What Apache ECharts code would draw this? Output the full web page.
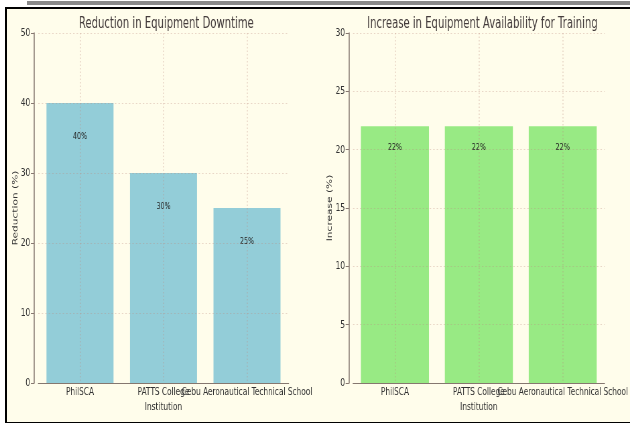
<!DOCTYPE html>
<html>
<head>
<meta charset="utf-8">
<script src="https://cdn.jsdelivr.net/npm/echarts@6/dist/echarts.min.js"></script>
<style>
  html, body { margin: 0; padding: 0; background: #ffffff; width: 630px; height: 423px; overflow: hidden; }
  #topbar { position: absolute; left: 27px; top: 1px; width: 603px; height: 4px; background: #8a8a8a; }
  #frame { position: absolute; left: 5px; top: 7px; width: 640px; height: 413px; border: 2px solid #000; background: #fffdeb; }
  /* the figure is drawn at full width and compressed horizontally, like the reference */
  #chart { position: absolute; left: 0; top: 0; width: 940px; height: 423px; transform: scaleX(0.67021); transform-origin: 0 0; }
</style>
</head>
<body>
<div id="topbar"></div>
<div id="frame"></div>
<div id="chart"></div>
<script>
const categories = ['PhilSCA', 'PATTS College', 'Cebu Aeronautical Technical School'];
const downtimeReduction = [40, 30, 25];
const availabilityIncrease = [22, 22, 22];
const leftTitle = 'Reduction in Equipment Downtime';
const rightTitle = 'Increase in Equipment Availability for Training';
const leftYName = 'Reduction (%)';
const rightYName = 'Increase (%)';
const xName = 'Institution';
const leftYRange = { min: 0, max: 50, interval: 10 };
const rightYRange = { min: 0, max: 30, interval: 5 };

const font = '"DejaVu Sans", sans-serif';
const gridColor = 'rgba(190,140,130,0.35)';
const axisColor = '#85776f';
const textColor = '#333333';

function xAxisFor(gridIndex) {
  return {
    type: 'category', gridIndex, data: categories, z: 5,
    name: xName, nameLocation: 'middle', nameGap: 19, nameMoveOverlap: false,
    nameTextStyle: { fontFamily: font, fontSize: 11, color: textColor },
    axisLine: { lineStyle: { color: axisColor, width: 1 } },
    axisTick: { alignWithLabel: true, length: 3, lineStyle: { color: axisColor, width: 1.5 } },
    axisLabel: { interval: 0, margin: 3.5, fontFamily: font, fontSize: 11, color: textColor, hideOverlap: false },
    splitLine: { show: true, alignWithLabel: true, lineStyle: { color: gridColor, type: [1.5, 2], width: 1.5 } }
  };
}
function yAxisFor(gridIndex, range, name) {
  return {
    type: 'value', gridIndex, min: range.min, max: range.max, interval: range.interval, offset: 6, z: 5,
    name, nameLocation: 'middle', nameGap: 22.5, nameMoveOverlap: false,
    nameTextStyle: { fontFamily: font, fontSize: 10.6, color: textColor },
    axisLine: { show: true, lineStyle: { color: axisColor, width: 1.5 } },
    axisTick: { show: true, length: 5, lineStyle: { color: axisColor, width: 1 } },
    axisLabel: { margin: 6, fontFamily: font, fontSize: 11, color: textColor },
    splitLine: { show: true, lineStyle: { color: gridColor, type: [2.2, 3], width: 1 } }
  };
}

const chart = echarts.init(document.getElementById('chart'), null, { renderer: 'canvas' });
chart.setOption({
  backgroundColor: 'transparent',
  animation: false,
  title: [
    { text: leftTitle, left: 243.2, top: 12, textAlign: 'center',
      textStyle: { fontFamily: font, fontSize: 15, fontWeight: 'normal', color: '#443c3c' } },
    { text: rightTitle, left: 714.7, top: 12, textAlign: 'center',
      textStyle: { fontFamily: font, fontSize: 15, fontWeight: 'normal', color: '#443c3c' } }
  ],
  grid: [
    { left: 57.07, right: 509.2, top: 33, bottom: 40 },
    { left: 526.7, right: 37.3, top: 33, bottom: 40 }
  ],
  xAxis: [xAxisFor(0), xAxisFor(1)],
  yAxis: [yAxisFor(0, leftYRange, leftYName), yAxisFor(1, rightYRange, rightYName)],
  series: [
    { type: 'bar', xAxisIndex: 0, yAxisIndex: 0, data: downtimeReduction, barWidth: 100,
      itemStyle: { color: '#93cdd8' },
      label: { show: true, position: 'insideTop', distance: 29, formatter: '{c}%',
        fontFamily: font, fontSize: 9.5, color: '#222' } },
    { type: 'bar', xAxisIndex: 1, yAxisIndex: 1, data: availabilityIncrease, barWidth: 101.5,
      itemStyle: { color: '#98ea84' },
      label: { show: true, position: 'insideTop', distance: 16, formatter: '{c}%',
        fontFamily: font, fontSize: 9.5, color: '#222' } }
  ]
});
</script>
</body>
</html>
